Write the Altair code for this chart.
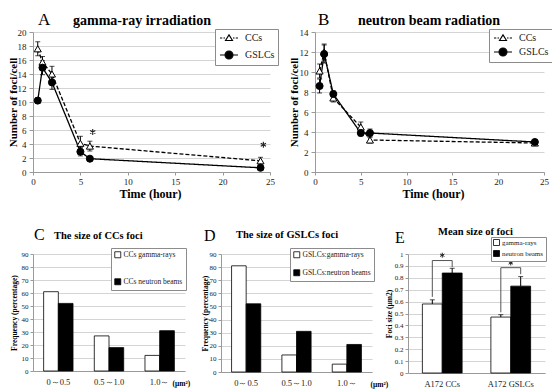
import altair as alt
import pandas as pd

FONT = "Liberation Serif"
GRID = "#d4d4d4"
AXC = "#9a9a9a"
TXT = "#222222"

# ---------------- data ----------------
times = [0.5, 1, 2, 5, 6, 24]
line_series = ["CCs", "GSLCs"]

a_ccs = [17.6, 15.7, 14.0, 4.1, 3.7, 1.6]
a_ccs_err = [1.0, 0.8, 1.1, 1.0, 0.7, 0.5]
a_gslcs = [10.2, 14.9, 12.8, 2.9, 1.9, 0.6]
a_gslcs_err = [0.4, 1.0, 1.0, 0.6, 0.2, 0.2]
a_star_t = [6.3, 24.3]
a_star_v = [5.7, 3.9]
a_ticks = [0, 2, 4, 6, 8, 10, 12, 14, 16, 18, 20]

b_ccs = [10.1, 12.0, 7.4, 4.5, 3.2, 2.9]
b_ccs_err = [0.7, 0.8, 0.4, 0.5, 0.3, 0.15]
b_gslcs = [8.6, 11.8, 7.8, 3.9, 3.9, 3.0]
b_gslcs_err = [0.7, 0.9, 0.3, 0.3, 0.4, 0.15]
b_ticks = [0, 2, 4, 6, 8, 10, 12, 14]

time_ticks = [0, 5, 10, 15, 20, 25]

size_bins = ["0～0.5", "0.5～1.0", "1.0～"]
freq_ticks = [0, 10, 20, 30, 40, 50, 60, 70, 80, 90]
c_series = ["CCs gamma-rays", "CCs neutron beams"]
c_gamma = [61, 27, 12]
c_neutron = [52, 18, 31]
d_series = ["GSLCs:gamma-rays", "GSLCs:neutron beams"]
d_gamma = [81, 13, 6]
d_neutron = [52, 31, 21]

e_cats = ["A172 CCs", "A172 GSLCs"]
e_series = ["gamma-rays", "neutron beams"]
e_gamma = [0.58, 0.47]
e_gamma_err = [0.035, 0.02]
e_neutron = [0.84, 0.73]
e_neutron_err = [0.04, 0.08]
e_brk_left = [0.64, 0.51]
e_brk_top = [0.945, 0.885]
e_brk_right = [0.89, 0.83]
e_star = [0.99, 0.925]
e_ticks = [0, 0.1, 0.2, 0.3, 0.4, 0.5, 0.6, 0.7, 0.8, 0.9, 1]

# legend symbols: line + marker drawn as custom paths
PATH_CC = ("M-1.8,0H-1.35M-1.1,0H-0.8M0.8,0H1.1M1.35,0H1.8"
           "M0,-0.62L0.7,0.5L-0.7,0.5Z")
PATH_GS = ("M-1.8,0H-0.8M0.8,0H1.8"
           "M-0.8,0A0.8,0.8,0,1,1,0.8,0A0.8,0.8,0,1,1,-0.8,0Z")
# asterisk glyph as a stroked path
PATH_STAR = "M0,-1L0,1M-0.87,-0.5L0.87,0.5M-0.87,0.5L0.87,-0.5"

IND = dict(shape="independent", fill="independent", strokeDash="independent",
           xOffset="independent")


def annot(text, x, y, size, weight="normal"):
    return alt.Chart(pd.DataFrame({"label": [text]})).mark_text(
        font=FONT, fontSize=size, fontWeight=weight, align="left",
        baseline="alphabetic", color="black"
    ).encode(x=alt.value(x), y=alt.value(y), text="label:N")


def line_panel(cc, cc_err, gs, gs_err, ticks, w, h, stars_t, stars_v,
               letter, letter_x, title, title_x, legend_x, legend_rowpad,
               xtitle_x, ytitle_x):
    rows = []
    for name, vals, errs in (("CCs", cc, cc_err), ("GSLCs", gs, gs_err)):
        for t, v, e in zip(times, vals, errs):
            rows.append({"t": t, "v": v, "lo": v - e, "hi": v + e, "s": name})
    df = pd.DataFrame(rows)

    xsc = alt.Scale(domain=[0, 25], nice=False)
    ysc = alt.Scale(domain=[0, ticks[-1]], nice=False)
    xax = alt.Axis(values=time_ticks, grid=False, domainColor=AXC, tickColor=AXC,
                   tickSize=3, labelFont=FONT, labelFontSize=9, labelColor=TXT,
                   labelPadding=2.5, labelFlush=False, labelOverlap=False,
                   title="Time (hour)", titleFont=FONT, titleFontSize=12,
                   titleFontWeight="bold", titleColor="black", titleX=xtitle_x,
                   titleY=21, titleAlign="center", titleBaseline="middle")
    yax = alt.Axis(values=ticks, grid=True, gridColor=GRID, domainColor=AXC,
                   tickColor=AXC, tickSize=4, labelFont=FONT, labelFontSize=9,
                   labelColor=TXT, labelPadding=3, labelFlush=False,
                   labelOverlap=False, title="Number of foci/cell", titleFont=FONT,
                   titleFontSize=11, titleFontWeight="bold", titleColor="black",
                   titleX=ytitle_x, titleY=h / 2, titleAngle=270,
                   titleAlign="center", titleBaseline="middle")
    X = alt.X("t:Q", scale=xsc, axis=xax)
    base = alt.Chart(df)

    line = base.mark_line(color="black", strokeWidth=1.3).encode(
        x=X, y=alt.Y("v:Q", scale=ysc, axis=yax),
        strokeDash=alt.StrokeDash("s:N", scale=alt.Scale(domain=line_series,
                                  range=[[4, 2], [1, 0]]), legend=None))
    err = base.mark_rule(color="black", strokeWidth=1).encode(
        x=X, y=alt.Y("lo:Q", scale=ysc, axis=yax), y2="hi:Q")
    cap_lo = base.mark_tick(color="black", orient="horizontal", size=5,
                            thickness=1).encode(x=X, y=alt.Y("lo:Q", scale=ysc, axis=yax))
    cap_hi = base.mark_tick(color="black", orient="horizontal", size=5,
                            thickness=1).encode(x=X, y=alt.Y("hi:Q", scale=ysc, axis=yax))
    pts = base.mark_point(stroke="black", strokeWidth=1, opacity=1, size=50).encode(
        x=X, y=alt.Y("v:Q", scale=ysc, axis=yax),
        shape=alt.Shape("s:N", scale=alt.Scale(domain=line_series,
                        range=["triangle-up", "circle"]), legend=None),
        fill=alt.Fill("s:N", scale=alt.Scale(domain=line_series,
                      range=["white", "black"]), legend=None))

    leg = alt.Legend(title=None, orient="none", legendX=legend_x, legendY=-3,
                     direction="vertical", strokeColor="#8c8c8c", fillColor="white",
                     padding=3, labelFont=FONT, labelFontSize=10, labelColor=TXT,
                     symbolSize=100, symbolStrokeWidth=1.1, symbolOffset=5,
                     labelOffset=10, rowPadding=legend_rowpad, cornerRadius=0)
    legend_layer = base.transform_filter("false").mark_point(
        stroke="black", strokeWidth=1.1, opacity=1).encode(
        shape=alt.Shape("s:N", scale=alt.Scale(domain=line_series,
                        range=[PATH_CC, PATH_GS]), legend=leg),
        fill=alt.Fill("s:N", scale=alt.Scale(domain=line_series,
                      range=["white", "black"]), legend=leg))

    layers = [line, err, cap_lo, cap_hi, pts, legend_layer]
    if stars_t:
        sdf = pd.DataFrame({"t": stars_t, "v": stars_v})
        layers.append(alt.Chart(sdf).mark_point(
            shape=PATH_STAR, size=36, stroke="#222222", strokeWidth=1.1,
            filled=False, opacity=1).encode(
            x=X, y=alt.Y("v:Q", scale=ysc, axis=yax)))
    layers.append(annot(letter, letter_x, -7, 17))
    layers.append(annot(title, title_x, -7, 14, "bold"))
    return alt.layer(*layers).resolve_scale(shape="independent", fill="independent").properties(
        width=w, height=h)


def bar_panel(cats, series, gamma, neutron, ticks, w, h, ytitle, ytitle_x,
              letter, letter_x, letter_y, title, title_x, title_y,
              legend_x, legend_y, legend_rowpad, legend_font=7.5, legend_pad=3,
              unit_x=None, fmt=None, extra=None):
    rows = []
    for c, g, n in zip(cats, gamma, neutron):
        rows.append({"cat": c, "series": series[0], "v": g})
        rows.append({"cat": c, "series": series[1], "v": n})
    df = pd.DataFrame(rows)
    xsc = alt.Scale(domain=cats, paddingInner=0.42, paddingOuter=0.21)
    ysc = alt.Scale(domain=[0, ticks[-1]], nice=False)
    xax_kw = dict(grid=False, domainColor=AXC, ticks=False, labelFont=FONT,
                  labelFontSize=8.5, labelColor=TXT, labelPadding=6, labelAngle=0)
    if unit_x is not None:
        xax_kw.update(title="(μm²)", titleFont=FONT, titleFontSize=7.5,
                      titleFontWeight="bold", titleColor="black", titleX=unit_x,
                      titleY=12, titleAlign="left", titleBaseline="middle")
    else:
        xax_kw.update(title=None)
    xax = alt.Axis(**xax_kw)
    yax_kw = dict(values=ticks, grid=True, gridColor=GRID, domainColor=AXC,
                  tickColor=AXC, tickSize=3, labelFont=FONT, labelFontSize=7,
                  labelColor=TXT, labelPadding=2, labelFlush=False,
                  labelOverlap=False, title=ytitle, titleFont=FONT,
                  titleFontSize=7.5, titleFontWeight="bold", titleColor="black",
                  titleX=ytitle_x, titleY=h / 2, titleAngle=270,
                  titleAlign="center", titleBaseline="middle")
    if fmt:
        yax_kw["format"] = fmt
    yax = alt.Axis(**yax_kw)
    X = alt.X("cat:N", scale=xsc, axis=xax)
    XO = alt.XOffset("series:N", scale=alt.Scale(domain=series, paddingInner=0,
                                                  paddingOuter=0))
    leg = alt.Legend(title=None, orient="none", legendX=legend_x, legendY=legend_y,
                     direction="vertical", strokeColor="#8c8c8c", fillColor="white",
                     padding=legend_pad, labelFont=FONT, labelFontSize=legend_font,
                     labelColor=TXT, symbolType="square", symbolSize=36,
                     symbolStrokeColor="black", symbolStrokeWidth=0.8,
                     labelOffset=2, rowPadding=legend_rowpad, cornerRadius=0)
    bars = alt.Chart(df).mark_bar(stroke="black", strokeWidth=0.8).encode(
        x=X, xOffset=XO, y=alt.Y("v:Q", scale=ysc, axis=yax),
        fill=alt.Fill("series:N", scale=alt.Scale(domain=series,
                      range=["white", "black"]), legend=leg))
    layers = [bars]
    if extra:
        layers += extra(X, XO, ysc, yax)
    layers.append(annot(letter, letter_x, letter_y, 16))
    layers.append(annot(title, title_x, title_y, 10.5, "bold"))
    return alt.layer(*layers).properties(width=w, height=h)


def e_extra(X, XO, ysc, yax):
    erows = []
    for c, g, ge, n, ne in zip(e_cats, e_gamma, e_gamma_err, e_neutron, e_neutron_err):
        erows.append({"cat": c, "series": e_series[0], "v": g, "hi": g + ge})
        erows.append({"cat": c, "series": e_series[1], "v": n, "hi": n + ne})
    edf = pd.DataFrame(erows)
    rule = alt.Chart(edf).mark_rule(color="black", strokeWidth=1).encode(
        x=X, xOffset=XO, y=alt.Y("v:Q", scale=ysc, axis=yax), y2="hi:Q")
    cap = alt.Chart(edf).mark_tick(color="black", orient="horizontal", size=5,
                                   thickness=1).encode(
        x=X, xOffset=XO, y=alt.Y("hi:Q", scale=ysc, axis=yax))
    brows = []
    for c, l, t, r in zip(e_cats, e_brk_left, e_brk_top, e_brk_right):
        brows += [{"cat": c, "series": e_series[0], "y": l, "o": 0},
                  {"cat": c, "series": e_series[0], "y": t, "o": 1},
                  {"cat": c, "series": e_series[1], "y": t, "o": 2},
                  {"cat": c, "series": e_series[1], "y": r, "o": 3}]
    bdf = pd.DataFrame(brows)
    brk = alt.Chart(bdf).mark_line(color="#555555", strokeWidth=1).encode(
        x=X, xOffset=XO, y=alt.Y("y:Q", scale=ysc, axis=yax),
        detail="cat:N", order="o:Q")
    sdf = pd.DataFrame({"cat": e_cats, "y": e_star})
    star = alt.Chart(sdf).mark_point(
        shape=PATH_STAR, size=25, stroke="#222222", strokeWidth=1,
        filled=False, opacity=1).encode(
        x=X, y=alt.Y("y:Q", scale=ysc, axis=yax))
    return [rule, cap, brk, star]


A = line_panel(a_ccs, a_ccs_err, a_gslcs, a_gslcs_err, a_ticks, 237, 140,
               a_star_t, a_star_v, "A", 5, "gamma-ray irradiation", 40,
               182, 5, 117, -20)
B = line_panel(b_ccs, b_ccs_err, b_gslcs, b_gslcs_err, b_ticks, 229, 140,
               [], [], "B", 3, "neutron beam radiation", 43,
               174, 2, 118, -21)
C = bar_panel(size_bins, c_series, c_gamma, c_neutron, freq_ticks, 152, 117,
              "Frequency (percentage)", -19, "C", 1, -14,
              "The size of CCs foci", 21, -15, 78, -6, 17, unit_x=139)
D = bar_panel(size_bins, d_series, d_gamma, d_neutron, freq_ticks, 151, 118,
              "Frequency (percentage)", -16, "D", -17, -13,
              "The size of GSLCs foci", 15, -16, 69, -6, 8, unit_x=149)
E = bar_panel(e_cats, e_series, e_gamma, e_neutron, e_ticks, 137, 119,
              "Foci size (μm2)", -19, "E", -13, -11,
              "Mean size of foci", 30, -19, 83, -17, 0, legend_font=7,
              legend_pad=2, fmt=".1~f", extra=e_extra)

top = alt.hconcat(A, B, spacing=45, bounds="flush").resolve_scale(**IND).resolve_legend(
    shape="independent", fill="independent")
bottom = alt.hconcat(C, D, E, spacing=36, bounds="flush").resolve_scale(**IND).resolve_legend(
    fill="independent")
chart = alt.vconcat(top, bottom, spacing=222, bounds="flush").resolve_scale(**IND).resolve_legend(
    shape="independent", fill="independent").properties(
    autosize=alt.AutoSizeParams(type="none"),
    padding={"left": 25, "top": 24, "right": 519, "bottom": 359}
).configure_view(stroke=None)

chart.save("out.html", embed_options={"renderer": "svg", "actions": False})
